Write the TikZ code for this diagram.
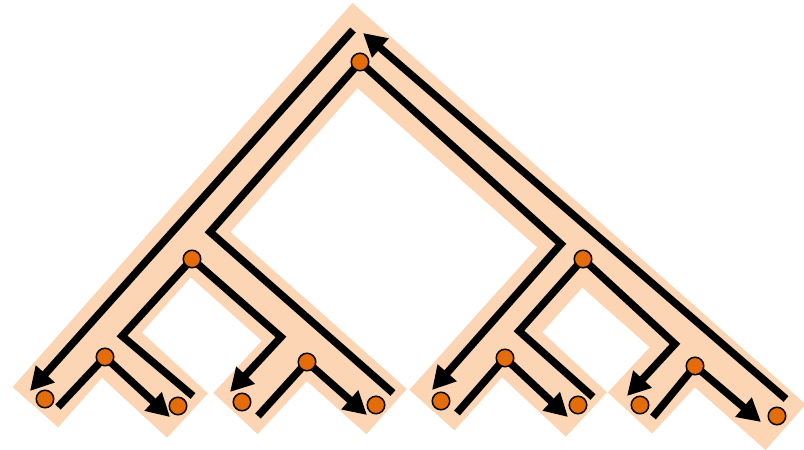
\documentclass[tikz,border=0pt]{standalone}
\usetikzlibrary{arrows.meta}
\definecolor{peach}{HTML}{FCD5B5}
\definecolor{nodeor}{HTML}{E46C0A}
\begin{document}
\begin{tikzpicture}[x=1pt,y=-1pt,
  band/.style={draw=peach,line width=60.4pt,line join=miter,line cap=butt,miter limit=10},
  tour/.style={draw=black,line width=7.5pt,line join=miter,line cap=butt},
  tourarr/.style={tour,-{Triangle[length=23pt,width=24pt]}},
  dot/.style={circle,fill=nodeor,draw=black,line width=1.5pt,inner sep=0pt,minimum size=17.5pt}]
\useasboundingbox (0,0) rectangle (804,450);
% tree node positions
\coordinate (r) at (360,62);
\coordinate (p) at (192,259);
\coordinate (q) at (583,259);
\coordinate (a) at (105,357);
\coordinate (b) at (307,362);
\coordinate (c) at (505,358);
\coordinate (d) at (695,366);
\coordinate (l1) at (45,399);
\coordinate (l2) at (178,406);
\coordinate (l3) at (242,402);
\coordinate (l4) at (376,405);
\coordinate (l5) at (441,401);
\coordinate (l6) at (578,405);
\coordinate (l7) at (640,405);
\coordinate (l8) at (777,416);
% band centre points
\coordinate (e1) at (35.5,407);
\coordinate (e2) at (187.5,415.5);
\coordinate (e3) at (235.5,413.5);
\coordinate (e4) at (386.5,411.5);
\coordinate (e5) at (432,410);
\coordinate (e6) at (586.5,414.5);
\coordinate (e7) at (630,413);
\coordinate (e8) at (785.5,427);
\coordinate (kr) at (355,45.5);
\coordinate (kp) at (188,234.5);
\coordinate (kq) at (580,244.9);
\coordinate (ka) at (99.6,334.5);
\coordinate (kb) at (305,338.8);
\coordinate (kc) at (500,334.1);
\coordinate (kd) at (693,345);
% peach band
\draw[band] (e1) -- (kr) -- (e8);
\draw[band] (e1) -- (ka) -- (e2);
\draw[band] (e1) -- (kp) -- (e4);
\draw[band] (e3) -- (kb) -- (e4);
\draw[band] (e5) -- (kq) -- (e8);
\draw[band] (e5) -- (kc) -- (e6);
\draw[band] (e7) -- (kd) -- (e8);
% tour line points
\coordinate (t1s) at (353,30);
\coordinate (t1e) at (30,391);
\coordinate (t2s) at (58,407);
\coordinate (t2e) at (170,417);
\coordinate (t3s) at (193,396);
\coordinate (t3a) at (122,336);
\coordinate (t3b) at (281,337);
\coordinate (t3e) at (230,392);
\coordinate (t4s) at (258,416);
\coordinate (t4e) at (367,415);
\coordinate (t5s) at (393,393);
\coordinate (t5a) at (210,232);
\coordinate (t5b) at (561,244);
\coordinate (t5e) at (432,390);
\coordinate (t6s) at (457,413);
\coordinate (t6e) at (568,417);
\coordinate (t7s) at (593,397);
\coordinate (t7a) at (519,331);
\coordinate (t7b) at (675,344);
\coordinate (t7e) at (627,396);
\coordinate (t8s) at (653,417);
\coordinate (t8e) at (761,422);
\coordinate (t9s) at (786,399);
\coordinate (t9e) at (363,33);
% tour lines
\draw[tourarr] (t1s) -- (t1e);
\draw[tourarr] (t2s) -- (a) -- (t2e);
\draw[tourarr] (t3s) -- (t3a) -- (p) -- (t3b) -- (t3e);
\draw[tourarr] (t4s) -- (b) -- (t4e);
\draw[tourarr] (t5s) -- (t5a) -- (r) -- (t5b) -- (t5e);
\draw[tourarr] (t6s) -- (c) -- (t6e);
\draw[tourarr] (t7s) -- (t7a) -- (q) -- (t7b) -- (t7e);
\draw[tourarr] (t8s) -- (d) -- (t8e);
\draw[tourarr] (t9s) -- (t9e);
% nodes
\foreach \n in {r,p,q,a,b,c,d,l1,l2,l3,l4,l5,l6,l7,l8}
  \node[dot] (n\n) at (\n) {};
\end{tikzpicture}
\end{document}
